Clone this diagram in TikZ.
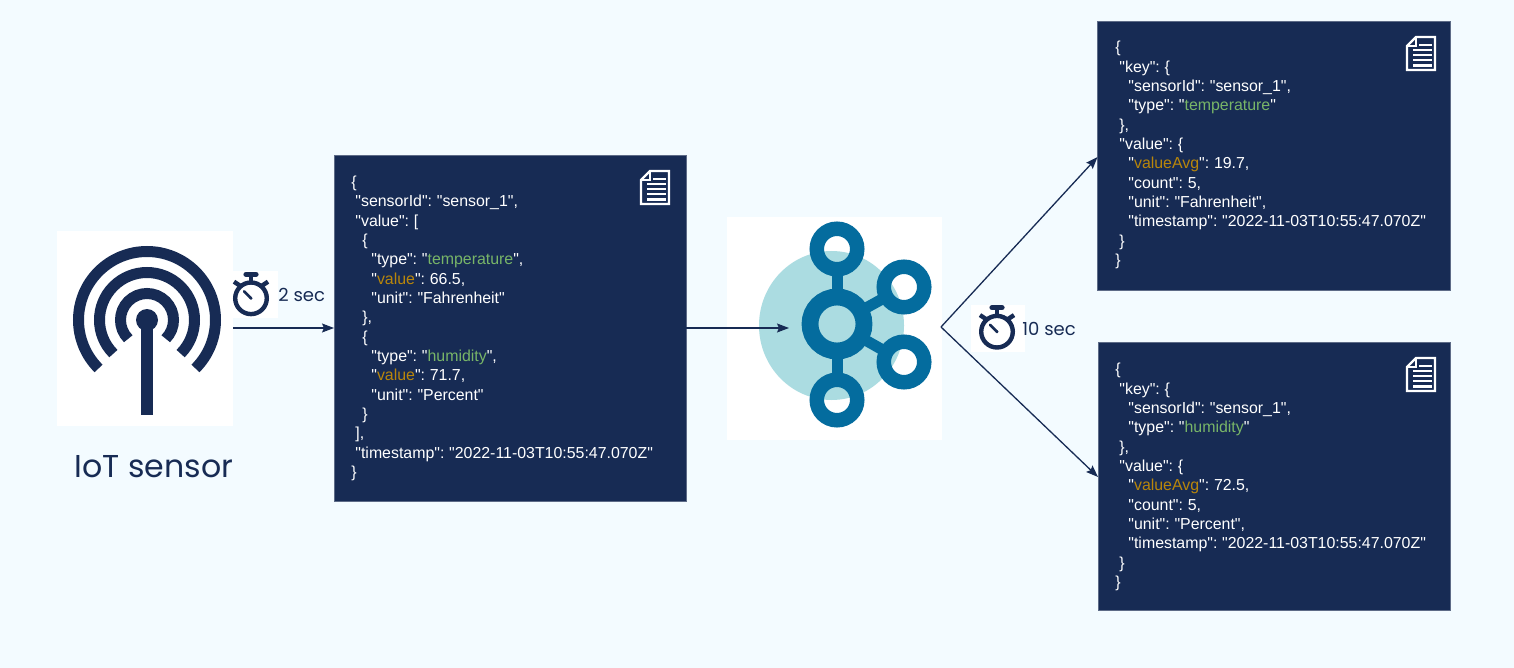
\documentclass[tikz,border=0pt]{standalone}
\usepackage{fontspec}
\newfontfamily\codefont[WordSpace=0.75]{Liberation Sans}
\newfontfamily\labelfont{Poppins}
\usetikzlibrary{arrows.meta,positioning}
\definecolor{navy}{HTML}{172B54}
\definecolor{pagebg}{HTML}{F3FBFF}
\definecolor{kafkablue}{HTML}{046C9E}
\definecolor{kafkalight}{HTML}{ABDCE1}
\definecolor{codegreen}{HTML}{78B568}
\definecolor{codegold}{HTML}{B8860B}
\tikzset{
  iconbox/.style={fill=white,inner sep=0pt,outer sep=0pt},
  codebox/.style={fill=navy,draw=navy!70!white,line width=0.4pt,inner sep=0pt,outer sep=0pt,anchor=north west},
  codetext/.style={text=white,align=left,anchor=north west,inner sep=0pt,font=\codefont\fontsize{7.95}{9.67}\selectfont},
  flow/.style={navy,line width=0.65pt,-{Stealth[length=6pt,width=4.5pt,inset=1pt]}},
  caption/.style={text=navy,inner sep=0pt,font=\labelfont\fontsize{9}{11}\selectfont},
  wave/.style={navy,line width=5.5pt},
  ring/.style={circle,draw=kafkablue,line width=7.25pt,inner sep=0pt,outer sep=0pt,minimum size=20.25pt},
  spoke/.style={kafkablue,line width=5.5pt}
}
\newcommand{\ind}[1]{\hspace*{#1pt}}
\newcommand{\grn}[1]{\textcolor{codegreen}{#1}}
\newcommand{\gld}[1]{\textcolor{codegold}{#1}}
% stopwatch, #1 is the centre of the dial
\newcommand{\stopwatch}[1]{
  \begin{scope}[shift={#1},navy]
    \draw[line width=2.2pt] (0,0) circle (15.8);
    \draw[line width=2.6pt,line cap=round] (-5,-24) -- (5,-24);
    \draw[line width=2pt] (0,-24) -- (0,-17);
    \draw[line width=2.2pt] (-17,-16.6) -- (-11,-12.6);
    \draw[line width=2.2pt] (17,-16.6) -- (11,-12.6);
    \draw[line width=1.3pt,line cap=round] (0,0) -- (-7,-7);
    \fill (0,0) circle (1.6);
  \end{scope}
}
% page icon, #1 is its top left corner
\newcommand{\docicon}[1]{
  \begin{scope}[shift={#1},white]
    \draw[line width=1.2pt] (9,0) -- (28,0) -- (28,33) -- (0,33) -- (0,9) -- cycle;
    \draw[line width=0.8pt] (0,9) -- (9,9) -- (9,0);
    \foreach \liney/\linex in {8/12,13/6,18/6,23/6,28.3/6}
      \draw[line width=1.3pt] (\linex,\liney) -- (24.5,\liney);
  \end{scope}
}
\begin{document}
\begin{tikzpicture}[x=0.5pt,y=-0.5pt]
  \useasboundingbox (0,0) rectangle (1514,668);
  \fill[pagebg] (0,0) rectangle (1514,668);
  %white backgrounds
  \node[iconbox,minimum width=88pt,minimum height=97.5pt] (sensor) at (145,328.5) {};
  \node[iconbox,minimum width=107.5pt,minimum height=111.5pt] (kafka) at (834.5,328.5) {};
  \node[iconbox,minimum width=22.5pt,minimum height=23.5pt] (watchA) at (255.5,294.5) {};
  \node[iconbox,minimum width=27pt,minimum height=23.5pt] (watchB) at (998,328.5) {};
  %antenna
  \foreach \rad in {26.5,47.5,68.5}
    \draw[wave] (147,320) ++(135:\rad) arc[start angle=135,end angle=405,radius=\rad];
  \fill[navy] (147,320) circle (11);
  \fill[navy] (141.3,320) rectangle (152.7,415);
  \node[caption,font=\labelfont\fontsize{15.8}{20}\selectfont] (sensorname) at (154,466.5) {IoT sensor};
  %kafka
  \fill[kafkalight] (831.5,325.5) ellipse (72.5 and 74.5);
  \node[ring,line width=8.4pt,minimum size=27pt] (hub) at (837,324) {};
  \node[ring] (ringtop) at (837,249) {};
  \node[ring] (ringup) at (904,287) {};
  \node[ring] (ringdown) at (904,362) {};
  \node[ring] (ringbottom) at (837,400) {};
  \foreach \ringname in {ringtop,ringup,ringdown,ringbottom}
    \draw[spoke] (hub) -- (\ringname);
  %messages
  \node[codebox,minimum width=176pt,minimum height=173pt] (msgbox) at (334,155) {};
  \node[codebox,minimum width=176.5pt,minimum height=134.5pt] (temp) at (1097.5,21) {};
  \node[codebox,minimum width=176pt,minimum height=134pt] (hum) at (1098,342) {};
  \node[codetext] (msgtext) at (351,175.5) {%
    \{\\
    \ind{2}"sensorId": "sensor\_1",\\
    \ind{2}"value": [\\
    \ind{5.5}\{\\
    \ind{10}"type": "\grn{temperature}",\\
    \ind{10}"\gld{value}": 66.5,\\
    \ind{10}"unit": "Fahrenheit"\\
    \ind{5.5}\},\\
    \ind{5.5}\{\\
    \ind{10}"type": "\grn{humidity}",\\
    \ind{10}"\gld{value}": 71.7,\\
    \ind{10}"unit": "Percent"\\
    \ind{5.5}\}\\
    \ind{2}],\\
    \ind{2}"timestamp": "2022-11-03T10:55:47.070Z"\\
    \}};
  \node[codetext] (temptext) at (1115,41) {%
    \{\\
    \ind{2}"key": \{\\
    \ind{6.5}"sensorId": "sensor\_1",\\
    \ind{6.5}"type": "\grn{temperature}"\\
    \ind{2}\},\\
    \ind{2}"value": \{\\
    \ind{6.5}"\gld{valueAvg}": 19.7,\\
    \ind{6.5}"count": 5,\\
    \ind{6.5}"unit": "Fahrenheit",\\
    \ind{6.5}"timestamp": "2022-11-03T10:55:47.070Z"\\
    \ind{2}\}\\
    \}};
  \node[codetext] (humtext) at (1115,363) {%
    \{\\
    \ind{2}"key": \{\\
    \ind{6.5}"sensorId": "sensor\_1",\\
    \ind{6.5}"type": "\grn{humidity}"\\
    \ind{2}\},\\
    \ind{2}"value": \{\\
    \ind{6.5}"\gld{valueAvg}": 72.5,\\
    \ind{6.5}"count": 5,\\
    \ind{6.5}"unit": "Percent",\\
    \ind{6.5}"timestamp": "2022-11-03T10:55:47.070Z"\\
    \ind{2}\}\\
    \}};
  \docicon{(641,171)}
  \docicon{(1407,37)}
  \docicon{(1407,358)}
  %stopwatches
  \stopwatch{(251,298.3)}
  \stopwatch{(997,331.7)}
  \node[caption,anchor=west] (twosec) at (278,295) {2 sec};
  \node[caption,anchor=west] (tensec) at (1022,329) {10 sec};
  %arrows
  \coordinate (intake) at (789,328);
  \coordinate (fork) at (941,327);
  \draw[flow] (sensor.east |- 0,328) -- (msgbox.west |- 0,328);
  \draw[flow] (msgbox.east |- 0,328) -- (intake);
  \draw[flow] (fork) -- (temp.west |- 0,157);
  \draw[flow] (fork) -- (hum.west |- 0,477);
\end{tikzpicture}
\end{document}
